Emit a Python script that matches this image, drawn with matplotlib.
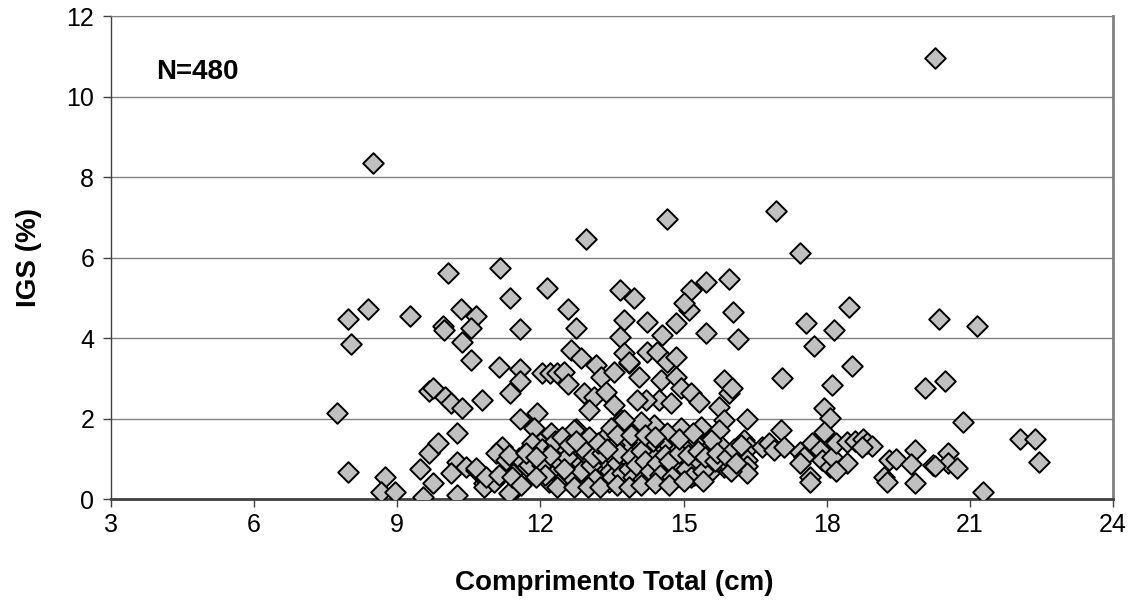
import matplotlib
matplotlib.use("Agg")
import matplotlib.pyplot as plt
import numpy as np

plt.rcParams["font.family"] = ["Liberation Sans", "DejaVu Sans"]

# Scattered / outlying fish (length cm, IGS %)
sparse_len = [
    8.5, 12.95, 14.65, 16.94, 17.45, 20.26,
    7.73, 7.96, 7.96, 8.38, 8.04, 8.75, 8.65, 8.96, 9.26, 9.47, 9.54, 9.75,
    9.66, 9.85, 9.66, 9.75, 10.01, 10.12, 10.35, 10.25, 10.06, 9.95, 9.97,
    10.33, 10.64, 10.54, 10.35, 10.54, 10.77, 10.25, 10.12, 10.25, 10.43,
    10.64, 10.81, 10.87,
    11.13, 11.15, 11.36, 11.57, 11.57, 11.57, 11.36, 11.57, 11.93, 11.36,
    12.13, 12.58, 12.74, 12.64, 12.03, 12.2, 12.35, 12.5, 12.58, 12.85,
    13.16, 13.27, 13.54, 13.86, 12.91, 13.12, 13.37, 13.02, 13.54, 13.69,
    12.74, 13.67, 13.96, 13.75, 13.67, 13.75,
    15.96, 15.47, 15.16, 15.12, 15.01, 16.04, 14.23, 14.84, 15.47, 14.55,
    16.13, 14.23, 14.45, 14.65, 14.84, 13.86, 14.07, 14.53, 14.84, 14.95,
    15.16, 15.33, 15.85, 15.96, 14.49, 14.21, 14.74, 14.03, 15.75, 15.85,
    15.37, 14.95, 15.6, 15.75,
    17.57, 17.74, 18.16, 17.07, 18.12, 16.02, 16.33, 17.95, 18.06, 17.95,
    17.05, 16.27, 16.38, 16.33, 16.33, 16.33, 16.65, 16.8, 16.9, 17.11,
    17.43, 17.53, 17.43, 17.64, 17.64, 17.7, 17.85, 17.91, 18.06, 18.12,
    18.2, 18.46, 18.52, 18.43, 18.6, 18.75, 18.85, 18.94, 18.43, 18.73, 18.2,
    19.3, 19.46, 19.21, 19.27, 19.84, 19.76, 19.84, 20.22, 20.54, 20.54,
    20.26, 20.74, 20.35, 21.14, 20.05, 20.47, 20.85, 22.05, 22.36, 22.45,
    21.27,
]
sparse_igs = [
    8.35, 6.45, 6.96, 7.16, 6.11, 10.96,
    2.14, 0.67, 4.47, 4.72, 3.85, 0.55, 0.18, 0.18, 4.55, 0.74, 0.05, 0.4,
    1.14, 1.39, 2.68, 2.76, 2.53, 2.38, 2.26, 1.64, 5.61, 4.3, 4.2,
    4.72, 4.55, 4.25, 3.9, 3.45, 2.46, 0.92, 0.65, 0.1, 0.8,
    0.72, 0.4, 0.45,
    3.28, 5.74, 5.0, 4.22, 3.23, 2.93, 2.63, 1.99, 2.14, 0.12,
    5.24, 4.72, 4.25, 3.7, 3.13, 3.13, 3.13, 3.15, 2.85, 3.5,
    3.33, 3.03, 3.16, 3.38, 2.63, 2.54, 2.66, 2.21, 2.34, 1.96,
    1.74, 5.19, 4.99, 4.45, 4.03, 3.63,
    5.47, 5.39, 5.19, 4.7, 4.87, 4.65, 4.4, 4.37, 4.12, 4.07,
    3.98, 3.65, 3.65, 3.4, 3.53, 3.4, 3.03, 2.96, 3.03, 2.76,
    2.63, 2.41, 2.96, 2.63, 2.46, 2.46, 2.38, 2.46, 2.29, 1.96,
    1.79, 1.76, 1.52, 1.71,
    4.37, 3.8, 4.2, 3.01, 2.83, 2.76, 1.99, 2.26, 2.01, 1.66,
    1.71, 1.47, 1.29, 0.97, 0.81, 0.65, 1.29, 1.39, 1.22, 1.29,
    1.17, 1.04, 0.89, 0.55, 0.42, 1.39, 1.22, 0.97, 0.8, 1.04,
    1.39, 4.77, 3.3, 1.42, 1.45, 1.5, 1.4, 1.32, 0.89, 1.29, 0.7,
    0.97, 0.99, 0.55, 0.42, 1.22, 0.87, 0.4, 0.85, 1.14, 0.89,
    0.82, 0.77, 4.47, 4.3, 2.76, 2.93, 1.91, 1.49, 1.49, 0.92,
    0.17,
]

# Dense cluster of small values between 11 and 16 cm
cluster_len = [
    10.64, 10.81, 11.02, 11.34, 11.17, 11.4, 11.19, 11.06, 11.27, 11.55,
    11.72, 11.86, 11.8, 12.0, 12.07, 12.22, 12.7, 13.02, 11.82, 12.03,
    12.28, 12.53, 11.34, 11.76, 12.03, 12.32, 12.64, 12.8, 12.95, 13.16,
    13.23, 10.85, 11.13, 11.4, 12.18, 12.45, 12.74, 12.95, 13.08, 13.33,
    13.39, 13.35,
    14.65, 14.38, 14.11, 13.75, 13.48, 15.81, 15.58, 15.22, 15.01, 14.74,
    14.55, 14.32, 14.03, 13.8, 13.54, 15.85, 15.58, 15.33, 15.01, 14.8,
    14.53, 14.23, 13.96, 13.69, 13.44, 14.11, 13.75, 13.54, 14.03, 14.38,
    14.59, 14.95, 15.22, 15.29, 15.54,
    12.4, 12.55, 12.6, 12.85, 12.9, 13.05, 13.1, 13.15, 13.3, 13.45,
    13.5, 13.6, 13.65, 13.7, 13.85, 13.9, 13.95, 14.0, 14.1, 14.15,
    14.2, 14.3, 14.35, 14.45, 14.5, 14.6, 14.7, 14.75, 14.9, 15.05,
    15.1, 15.15, 15.3, 15.4, 15.45, 15.65, 15.7, 15.9, 16.0, 16.05,
    16.1, 16.2, 12.3, 12.45, 12.6, 12.75, 13.2, 13.4, 13.6, 13.9,
    14.2, 14.4, 14.9, 15.2, 12.2, 12.1, 11.9, 11.6, 11.7, 11.9,
    12.35, 12.5, 12.7, 13.0, 13.25, 13.6, 13.85, 14.1, 14.4, 14.7,
    15.0, 15.4,
]
cluster_igs = [
    0.77, 0.3, 0.42, 0.15, 0.65, 0.65, 1.29, 1.14, 0.97, 1.02,
    0.8, 1.76, 1.29, 1.39, 0.97, 1.64, 1.71, 1.54, 1.39, 1.25,
    1.25, 1.25, 1.09, 0.84, 0.84, 0.67, 0.84, 0.95, 1.09, 1.27,
    0.77, 0.55, 0.6, 0.55, 0.42, 0.47, 0.4, 0.42, 0.6, 0.52,
    0.92, 1.54,
    1.64, 1.84, 1.91, 1.96, 1.76, 1.29, 1.47, 1.42, 1.27, 1.17,
    1.34, 1.27, 1.39, 1.42, 1.34, 0.8, 0.77, 0.92, 0.97, 0.8,
    0.77, 0.6, 0.42, 0.52, 0.42, 0.77, 0.84, 1.02, 1.02, 1.02,
    0.52, 0.6, 0.6, 0.89, 0.65,
    0.9, 1.05, 0.6, 0.7, 1.25, 0.85, 1.05, 0.5, 1.15, 0.7,
    0.55, 0.9, 1.15, 0.65, 0.75, 1.05, 0.55, 0.85, 1.2, 0.5,
    0.95, 0.7, 1.45, 0.9, 0.6, 1.1, 0.95, 0.55, 1.15, 0.75,
    1.1, 0.55, 1.2, 0.7, 1.05, 0.95, 1.15, 1.05, 0.7, 1.25,
    0.9, 1.35, 1.45, 1.55, 1.35, 1.45, 1.4, 1.25, 1.6, 1.6,
    1.6, 1.55, 1.5, 1.65, 1.1, 0.6, 0.55, 0.35, 1.15, 1.05,
    0.3, 0.75, 0.3, 0.3, 0.3, 0.35, 0.3, 0.35, 0.4, 0.35,
    0.45, 0.45,
]

length_cm = np.array(sparse_len + cluster_len)
igs_pct = np.array(sparse_igs + cluster_igs)

fig = plt.figure(figsize=(11.34, 6.11), dpi=100)
ax = fig.add_axes([0.0979, 0.1833, 0.8836, 0.7905])

ax.scatter(length_cm, igs_pct, marker="D", s=110, facecolor="#c0c0c0",
           edgecolor="black", linewidths=1.4, zorder=3)

ax.set_xlim(3, 24)
ax.set_ylim(0, 12)
ax.set_xticks(np.arange(3, 25, 3))
ax.set_yticks(np.arange(0, 13, 2))
ax.yaxis.grid(True, color="#808080", linewidth=1.0, zorder=0)
ax.set_axisbelow(True)

for side in ["left", "bottom"]:
    ax.spines[side].set_color("#404040")
ax.spines["left"].set_linewidth(1.0)
ax.spines["bottom"].set_linewidth(2.0)
ax.spines["right"].set_color("#808080")
ax.spines["right"].set_linewidth(2.0)
ax.spines["top"].set_color("#808080")
ax.tick_params(axis="both", direction="out", length=6, width=1,
               color="#404040", labelsize=18)
ax.tick_params(axis="x", pad=4)
ax.tick_params(axis="y", pad=6)

ax.set_xlabel("Comprimento Total (cm)", fontsize=20, fontweight="bold")
ax.set_ylabel("IGS (%)", fontsize=20, fontweight="bold")
ax.xaxis.set_label_coords(0.502, -0.148)
ax.yaxis.set_label_coords(-0.069, 0.5)
ax.text(3.95, 10.6, "N=480", fontsize=20, fontweight="bold", va="center")

fig.savefig("out.png", dpi=100)
